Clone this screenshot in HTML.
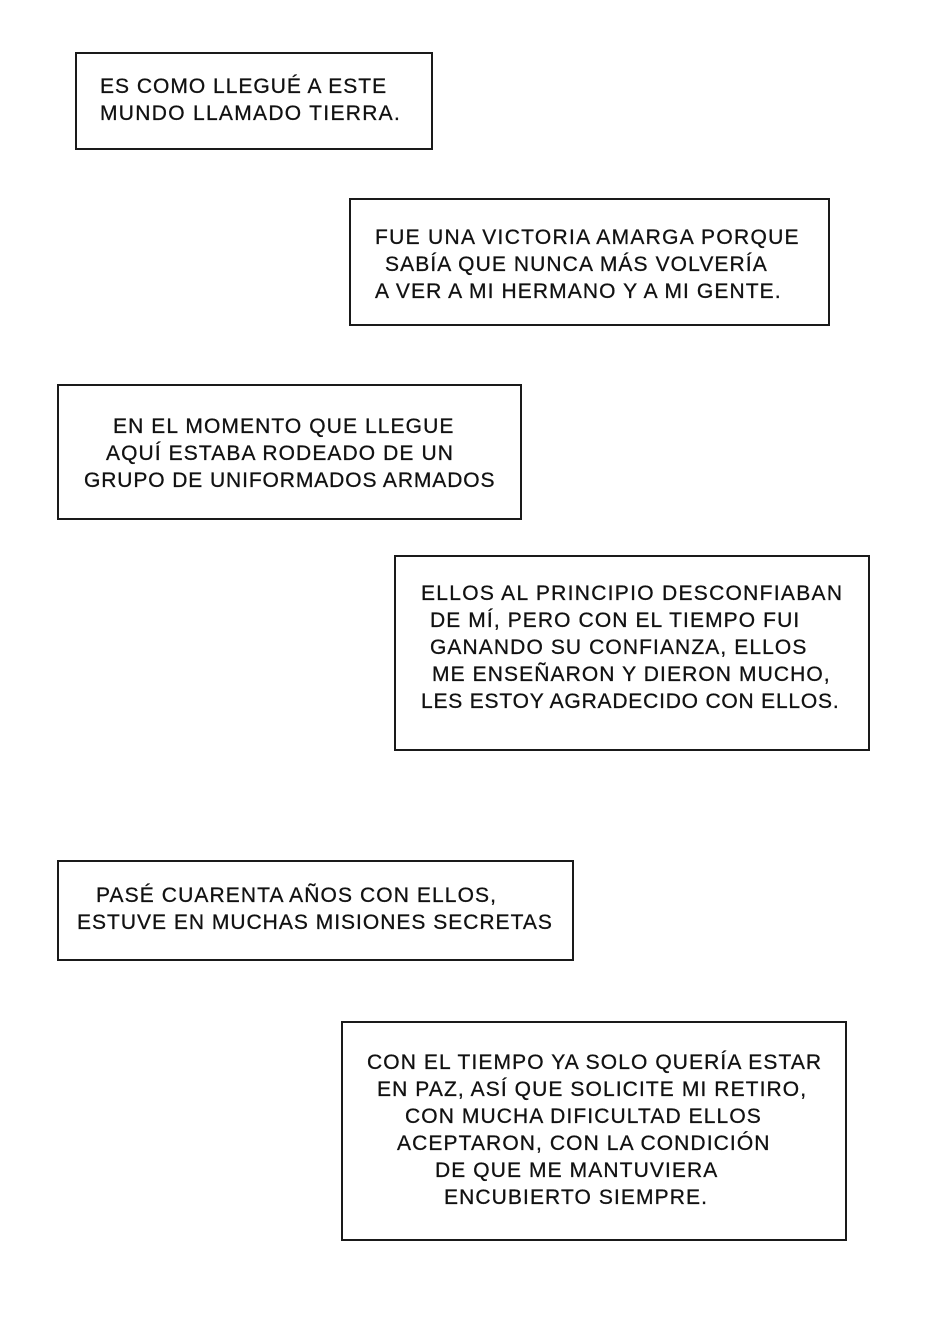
<!DOCTYPE html>
<html><head><meta charset="utf-8"><style>
body{margin:0;width:940px;height:1330px;background:#fff;position:relative;overflow:hidden;font-family:"Liberation Sans",sans-serif;}
.b{position:absolute;border:2px solid #1a1a1a;box-sizing:border-box;background:#fff}
.t{position:absolute;font-size:21px;line-height:24px;color:#111;white-space:nowrap;letter-spacing:1.1px;-webkit-text-stroke:0.3px #111}
</style></head><body>
<div class="b" style="left:75px;top:52px;width:358px;height:98px"></div>
<div class="t" style="left:100px;top:75px;letter-spacing:1px">ES COMO LLEGUÉ A ESTE</div>
<div class="t" style="left:100px;top:102px;letter-spacing:1.3px">MUNDO LLAMADO TIERRA.</div>

<div class="b" style="left:349px;top:198px;width:481px;height:128px"></div>
<div class="t" style="left:375px;top:226px;letter-spacing:1.3px">FUE UNA VICTORIA AMARGA PORQUE</div>
<div class="t" style="left:385px;top:253px">SABÍA QUE NUNCA MÁS VOLVERÍA</div>
<div class="t" style="left:375px;top:280px">A VER A MI HERMANO Y A MI GENTE.</div>

<div class="b" style="left:57px;top:384px;width:465px;height:136px"></div>
<div class="t" style="left:113px;top:415px">EN EL MOMENTO QUE LLEGUE</div>
<div class="t" style="left:106px;top:442px">AQUÍ ESTABA RODEADO DE UN</div>
<div class="t" style="left:84px;top:469px;letter-spacing:0.9px">GRUPO DE UNIFORMADOS ARMADOS</div>

<div class="b" style="left:394px;top:555px;width:476px;height:196px"></div>
<div class="t" style="left:421px;top:582px;letter-spacing:1.3px">ELLOS AL PRINCIPIO DESCONFIABAN</div>
<div class="t" style="left:430px;top:609px">DE MÍ, PERO CON EL TIEMPO FUI</div>
<div class="t" style="left:430px;top:636px">GANANDO SU CONFIANZA, ELLOS</div>
<div class="t" style="left:432px;top:663px">ME ENSEÑARON Y DIERON MUCHO,</div>
<div class="t" style="left:421px;top:690px;letter-spacing:0.8px">LES ESTOY AGRADECIDO CON ELLOS.</div>

<div class="b" style="left:57px;top:860px;width:517px;height:101px"></div>
<div class="t" style="left:96px;top:884px">PASÉ CUARENTA AÑOS CON ELLOS,</div>
<div class="t" style="left:77px;top:911px;letter-spacing:1px">ESTUVE EN MUCHAS MISIONES SECRETAS</div>

<div class="b" style="left:341px;top:1021px;width:506px;height:220px"></div>
<div class="t" style="left:367px;top:1051px">CON EL TIEMPO YA SOLO QUERÍA ESTAR</div>
<div class="t" style="left:377px;top:1078px">EN PAZ, ASÍ QUE SOLICITE MI RETIRO,</div>
<div class="t" style="left:405px;top:1105px">CON MUCHA DIFICULTAD ELLOS</div>
<div class="t" style="left:397px;top:1132px">ACEPTARON, CON LA CONDICIÓN</div>
<div class="t" style="left:435px;top:1159px">DE QUE ME MANTUVIERA</div>
<div class="t" style="left:444px;top:1186px">ENCUBIERTO SIEMPRE.</div>
</body></html>
